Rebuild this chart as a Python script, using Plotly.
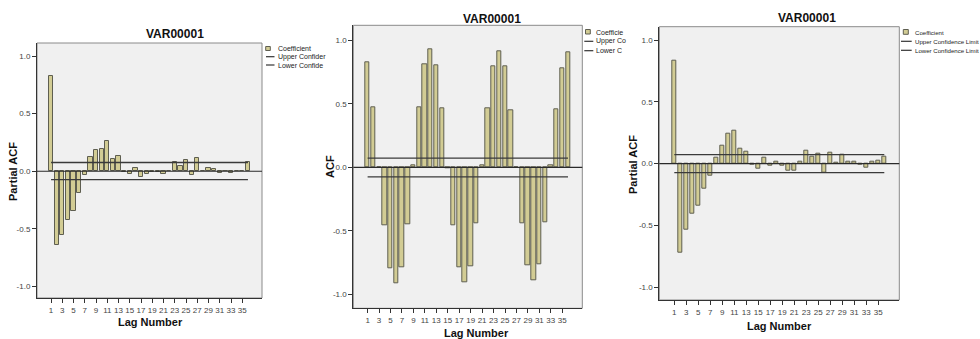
import plotly.graph_objects as go

W, H = 980, 339

lags = list(range(1, 37))
tick_lags = list(range(1, 36, 2))
tick_labels = [str(v) for v in tick_lags]
y_tickvals = [-1.0, -0.5, 0.0, 0.5, 1.0]
y_ticktext = ["-1.0", "-0.5", "0.0", "0.5", "1.0"]

pacf_left = [0.823, -0.640, -0.554, -0.420, -0.342, -0.188, -0.032, 0.128, 0.186, 0.197,
             0.264, 0.104, 0.133, -0.004, -0.023, 0.029, -0.046, -0.023, -0.005, -0.003,
             -0.022, 0.005, 0.083, 0.046, 0.099, -0.034, 0.116, 0.002, 0.029, 0.022,
             -0.011, 0.003, -0.013, 0.003, 0.002, 0.078]

acf_mid = [0.830, 0.476, 0.005, -0.455, -0.794, -0.915, -0.788, -0.449, 0.018, 0.476,
           0.815, 0.933, 0.807, 0.463, -0.003, -0.455, -0.788, -0.904, -0.778, -0.439,
           0.016, 0.468, 0.799, 0.917, 0.794, 0.452, -0.002, -0.444, -0.773, -0.888,
           -0.767, -0.436, 0.013, 0.457, 0.781, 0.907]

pacf_right = [0.832, -0.722, -0.538, -0.403, -0.338, -0.203, -0.096, 0.052, 0.143, 0.241,
              0.268, 0.122, 0.095, -0.008, -0.038, 0.051, -0.016, 0.019, -0.019, -0.054,
              -0.054, 0.014, 0.103, 0.054, 0.081, -0.070, 0.086, 0.011, 0.070, 0.014,
              0.014, -0.005, -0.030, 0.016, 0.027, 0.059]

conf_lags = [1, 36]
upper_left, lower_left = [0.076, 0.076], [-0.072, -0.072]
upper_mid, lower_mid = [0.074, 0.074], [-0.074, -0.074]
upper_right, lower_right = [0.073, 0.073], [-0.073, -0.073]

titles = ["VAR00001", "VAR00001", "VAR00001"]
y_titles = ["Partial ACF", "ACF", "Partial ACF"]
x_title = "Lag Number"
legend_texts = [
    ["Coefficient", "Upper Confider", "Lower Confide"],
    ["Coefficie", "Upper Co", "Lower C"],
    ["Coefficient", "Upper Confidence Limit", "Lower Confidence Limit"],
]

FONT = "Liberation Sans, Arial, sans-serif"
BAR_FILL = "#D2CC94"
BAR_LINE = "#5E5E50"
BG = "#F0F0F0"

# panel geometry in pixels: plot-area left, right, top, bottom; y range
panels = [
    dict(l=37, r=262, t=43, b=298, yr=[-1.10, 1.113], data=pacf_left,
         up=upper_left, lo=lower_left,
         title=(174.5, 34), ytitle=(13, 172), xtitle=(150, 322),
         leg=dict(box=(265.7, 270.3, 46.5, 50.5), tx=275.5, rows=[48.3, 56.7, 65.0], lx=(266, 274.5), fs=7)),
    dict(l=353.3, r=582.3, t=25.3, b=308.3, yr=[-1.11, 1.12], data=acf_mid,
         up=upper_mid, lo=lower_mid,
         title=(491.7, 19), ytitle=(330, 167), xtitle=(476, 333),
         leg=dict(box=(585.5, 590.3, 29.5, 34), tx=594, rows=[32, 41.3, 50.7], lx=(584.3, 593.3), fs=7)),
    dict(l=659.3, r=899.3, t=26.7, b=300, yr=[-1.105, 1.11], data=pacf_right,
         up=upper_right, lo=lower_right,
         title=(806.7, 18.3), ytitle=(633, 165), xtitle=(779, 326),
         leg=dict(box=(903.3, 908.3, 29.5, 34.3), tx=913.3, rows=[32, 41.3, 50.3], lx=(901, 911.7), fs=6.1)),
]

def px(x):
    return x / W

def py(y):
    return 1 - y / H

fig = go.Figure()
annotations = []
shapes = []

for i, p in enumerate(panels):
    n = "" if i == 0 else str(i + 1)
    xa, ya = "x" + n, "y" + n
    fig.add_trace(go.Bar(x=lags, y=p["data"], width=0.76, xaxis=xa, yaxis=ya,
                         marker=dict(color=BAR_FILL, line=dict(color=BAR_LINE, width=1)),
                         showlegend=False, name="Coefficient"))
    fig.add_trace(go.Scatter(x=conf_lags, y=p["up"], mode="lines", xaxis=xa, yaxis=ya,
                             line=dict(color="#3A3A3A", width=1.3), showlegend=False,
                             name="Upper Confidence Limit"))
    fig.add_trace(go.Scatter(x=conf_lags, y=p["lo"], mode="lines", xaxis=xa, yaxis=ya,
                             line=dict(color="#3A3A3A", width=1.3), showlegend=False,
                             name="Lower Confidence Limit"))
    axis_common = dict(showgrid=False, zeroline=False, showline=True, linecolor="#333333",
                       linewidth=1, ticks="outside", ticklen=4, tickcolor="#333333",
                       automargin=False,
                       tickfont=dict(family=FONT, size=8, color="#444444"))
    fig.layout["xaxis" + n] = dict(axis_common, domain=[px(p["l"]), px(p["r"])],
                                   range=[-1.5, 38.5], tickvals=tick_lags, ticktext=tick_labels,
                                   tickangle=0, anchor=ya, fixedrange=True)
    fig.layout["yaxis" + n] = dict(axis_common, domain=[py(p["b"]), py(p["t"])],
                                   range=p["yr"], tickvals=y_tickvals, ticktext=y_ticktext,
                                   anchor=xa, fixedrange=True)
    # background and border
    shapes.append(dict(type="rect", xref=xa + " domain", yref=ya + " domain", x0=0, x1=1, y0=0, y1=1,
                       fillcolor=BG, line=dict(color="#8A8A8A", width=1), layer="below"))
    # zero reference line
    shapes.append(dict(type="line", xref=xa + " domain", yref=ya, x0=0, x1=1, y0=0, y1=0,
                       line=dict(color="#2A2A2A", width=1.2)))
    # titles
    annotations.append(dict(text="<b>%s</b>" % titles[i], x=px(p["title"][0]), y=py(p["title"][1]),
                            xref="paper", yref="paper", showarrow=False,
                            font=dict(family=FONT, size=12, color="#111111"),
                            xanchor="center", yanchor="middle"))
    annotations.append(dict(text="<b>%s</b>" % y_titles[i], x=px(p["ytitle"][0]), y=py(p["ytitle"][1]),
                            xref="paper", yref="paper", showarrow=False, textangle=-90,
                            font=dict(family=FONT, size=11, color="#111111"),
                            xanchor="center", yanchor="middle"))
    annotations.append(dict(text="<b>%s</b>" % x_title, x=px(p["xtitle"][0]), y=py(p["xtitle"][1]),
                            xref="paper", yref="paper", showarrow=False,
                            font=dict(family=FONT, size=11, color="#111111"),
                            xanchor="center", yanchor="middle"))
    # legend drawn manually
    lg = p["leg"]
    bx0, bx1, by0, by1 = lg["box"]
    shapes.append(dict(type="rect", xref="paper", yref="paper", x0=px(bx0), x1=px(bx1),
                       y0=py(by1), y1=py(by0), fillcolor=BAR_FILL,
                       line=dict(color=BAR_LINE, width=1)))
    for k in (1, 2):
        shapes.append(dict(type="line", xref="paper", yref="paper", x0=px(lg["lx"][0]), x1=px(lg["lx"][1]),
                           y0=py(lg["rows"][k]), y1=py(lg["rows"][k]),
                           line=dict(color="#333333", width=1.2)))
    for k in range(3):
        annotations.append(dict(text=legend_texts[i][k], x=px(lg["tx"]), y=py(lg["rows"][k]),
                                xref="paper", yref="paper", showarrow=False,
                                font=dict(family=FONT, size=lg["fs"], color="#222222"),
                                xanchor="left", yanchor="middle"))

fig.update_layout(width=W, height=H, margin=dict(l=0, r=0, t=0, b=0),
                  paper_bgcolor="white", plot_bgcolor="rgba(0,0,0,0)",
                  bargap=0, showlegend=False,
                  annotations=annotations, shapes=shapes)

fig.write_html("out.html", config={"displayModeBar": False},
               post_script="document.body.style.margin='0';document.body.style.overflow='hidden';")
